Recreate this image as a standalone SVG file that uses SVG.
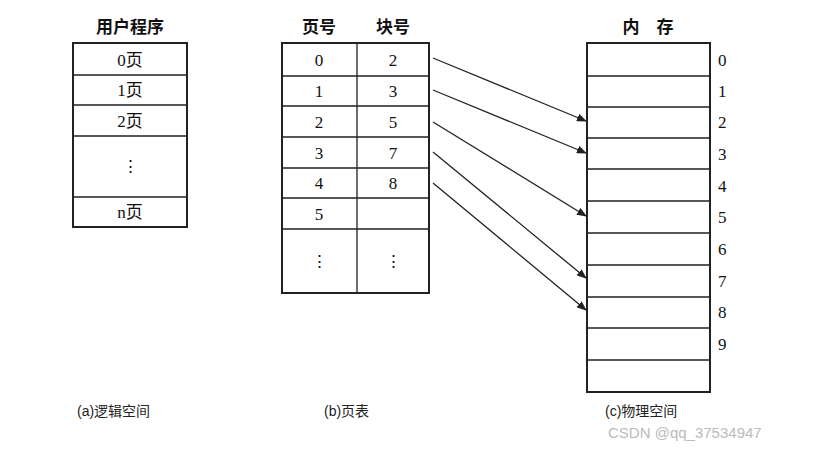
<svg xmlns="http://www.w3.org/2000/svg" width="816" height="452" viewBox="0 0 816 452">
<style>
.b{fill:#fff;stroke:#222;stroke-width:2}
.l{stroke:#222;stroke-width:1.3}
.t{font-family:"Liberation Serif","Noto Sans CJK SC",serif;font-size:17px;fill:#111;text-anchor:middle}
.h{font-family:"Noto Sans CJK SC",sans-serif;font-size:17px;font-weight:bold;fill:#111;text-anchor:middle}
.c{font-family:"Liberation Sans","Noto Sans CJK SC",sans-serif;font-size:14px;fill:#222}
</style>
<defs><marker id="a" markerWidth="10" markerHeight="8" refX="9" refY="4" orient="auto" markerUnits="userSpaceOnUse"><path d="M0,0L10,4L0,8z" fill="#222"/></marker></defs>
<rect width="816" height="452" fill="#fff"/>
<g id="program">
<text class="h" x="130" y="33">用户程序</text>
<rect class="b" x="73" y="43" width="114" height="184"/>
<path class="l" d="M73,75H187M73,105H187M73,136H187M73,197H187"/>
<text class="t" x="130" y="66">0页</text>
<text class="t" x="130" y="96">1页</text>
<text class="t" x="130" y="127">2页</text>
<text class="t" x="130" y="172">⋮</text>
<text class="t" x="130" y="218">n页</text>
</g>
<g id="pagetable">
<text class="h" x="319" y="33">页号</text>
<text class="h" x="393" y="33">块号</text>
<rect class="b" x="282" y="43" width="147" height="250"/>
<path class="l" d="M357,43V293M282,76H429M282,106H429M282,137H429M282,168H429M282,198H429M282,229H429"/>
<g class="t">
<text class="t" x="319" y="66">0</text><text class="t" x="393" y="66">2</text>
<text class="t" x="319" y="97">1</text><text class="t" x="393" y="97">3</text>
<text class="t" x="319" y="128">2</text><text class="t" x="393" y="128">5</text>
<text class="t" x="319" y="159">3</text><text class="t" x="393" y="159">7</text>
<text class="t" x="319" y="189">4</text><text class="t" x="393" y="189">8</text>
<text class="t" x="319" y="220">5</text>
<text class="t" x="319" y="267">⋮</text><text class="t" x="393" y="267">⋮</text>
</g>
</g>
<g id="memory">
<text class="h" x="648" y="33">内　存</text>
<rect class="b" x="587" y="43" width="123" height="349"/>
<path class="l" d="M587,76H710M587,107H710M587,138H710M587,169H710M587,201H710M587,233H710M587,265H710M587,297H710M587,328H710M587,360H710"/>
<g class="t" style="text-anchor:start">
<text class="t" x="718" y="66" style="text-anchor:start">0</text>
<text class="t" x="718" y="97" style="text-anchor:start">1</text>
<text class="t" x="718" y="128" style="text-anchor:start">2</text>
<text class="t" x="718" y="160" style="text-anchor:start">3</text>
<text class="t" x="718" y="192" style="text-anchor:start">4</text>
<text class="t" x="718" y="223" style="text-anchor:start">5</text>
<text class="t" x="718" y="255" style="text-anchor:start">6</text>
<text class="t" x="718" y="287" style="text-anchor:start">7</text>
<text class="t" x="718" y="318" style="text-anchor:start">8</text>
<text class="t" x="718" y="350" style="text-anchor:start">9</text>
</g>
</g>
<g id="connectors" fill="none">
<line class="l" x1="433" y1="58" x2="586" y2="121" marker-end="url(#a)"/>
<line class="l" x1="433" y1="90" x2="586" y2="153" marker-end="url(#a)"/>
<line class="l" x1="433" y1="122" x2="586" y2="216" marker-end="url(#a)"/>
<line class="l" x1="433" y1="152" x2="586" y2="278" marker-end="url(#a)"/>
<line class="l" x1="433" y1="183" x2="586" y2="310" marker-end="url(#a)"/>
</g>
<text class="c" x="77" y="416">(a)逻辑空间</text>
<text class="c" x="324" y="416">(b)页表</text>
<text class="c" x="605" y="416">(c)物理空间</text>
<text class="c" x="608" y="438" style="fill:#bbb;font-size:15px">CSDN @qq_37534947</text>
</svg>
